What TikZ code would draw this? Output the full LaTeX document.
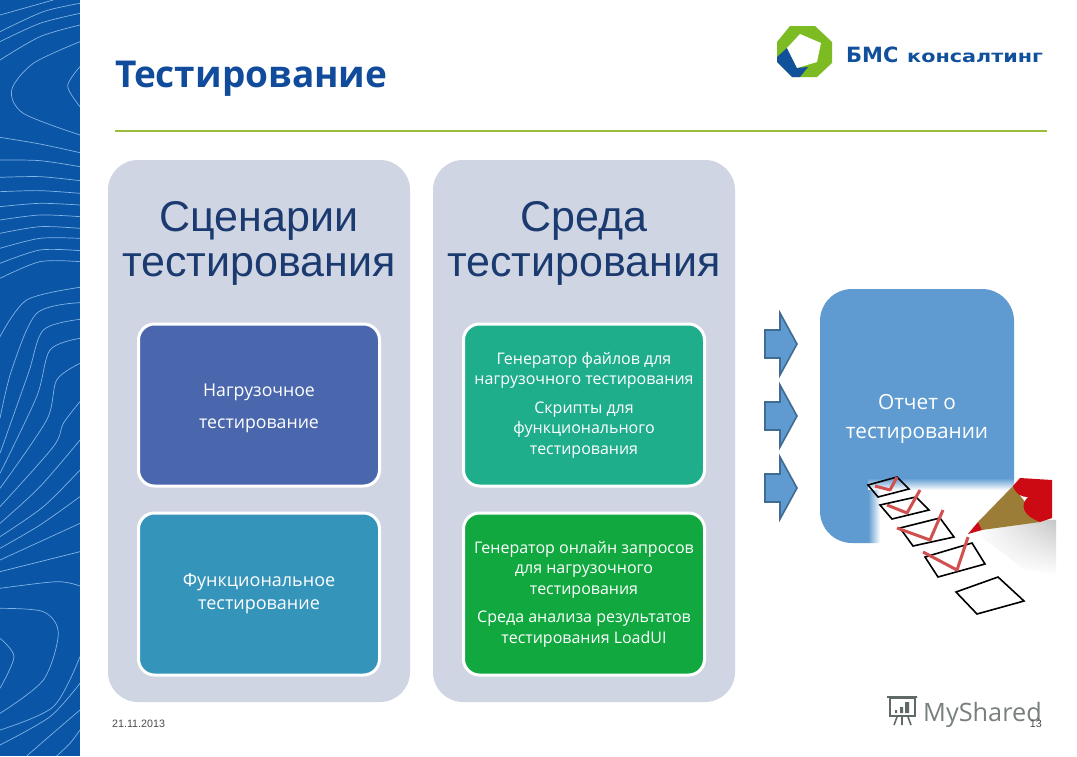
\documentclass[tikz,border=0pt]{standalone}
\usepackage{fontspec}
\setmainfont{Open Sans}
\newfontfamily\headfont{Liberation Sans}
\newfontfamily\logofont{DejaVu Sans}
\newfontfamily\logowidefont[FakeStretch=1.22]{DejaVu Sans}
\usepackage{xcolor}
\usetikzlibrary{fadings}
\definecolor{bandblue}{HTML}{0A55A5}
\definecolor{contourblue}{HTML}{7FB4E6}
\definecolor{titleblue}{HTML}{104C9B}
\definecolor{headblue}{HTML}{1A3A70}
\definecolor{rulegreen}{HTML}{9BBB3B}
\definecolor{panelgrey}{HTML}{CFD5E3}
\definecolor{loadblue}{HTML}{4A66AC}
\definecolor{functeal}{HTML}{3494BA}
\definecolor{filegreen}{HTML}{1FAE8C}
\definecolor{onlinegreen}{HTML}{10A83F}
\definecolor{reportblue}{HTML}{5F9BD1}
\definecolor{arrowedge}{HTML}{3F6B94}
\definecolor{checkred}{HTML}{D0504F}
\definecolor{logogreen}{HTML}{7DBB23}
\definecolor{logoblue}{HTML}{11519C}
\definecolor{markgrey}{HTML}{5F6A66}
\definecolor{pencilbrown}{HTML}{9C7D38}
\definecolor{pencilred}{HTML}{CC0A14}
\tikzset{
	panel/.style = {fill = panelgrey, rounded corners = 30pt, minimum width = 302pt, minimum height = 542pt},
	testbox/.style = {draw = white, line width = 3pt, rounded corners = 16pt, minimum width = 241pt, minimum height = 162pt, text = white, align = center, font = \fontsize{16}{20.5}\selectfont},
	panelhead/.style = {text = headblue, align = center, font = \headfont\fontsize{43}{44.5}\selectfont},
	contourline/.style = {draw = contourblue, line width = 0.7pt},
	tickbox/.style = {draw = black, line width = 1.6pt},
	tickmark/.style = {draw = checkred, line width = 3pt, line join = round}
}
\begin{document}
\begin{tikzpicture}[x = 1pt, y = -1pt]
		\useasboundingbox (0,0) rectangle (1077,756);
		\fill[white] (0,0) rectangle (1077,756);
		\fill[bandblue] (0,0) rectangle (80,756);
		\begin{scope}
			\clip (0,0) rectangle (80,756);
			\begin{scope}[scale = 1/3]
				\draw[contourline] plot[smooth] coordinates {(0,45) (160,0)};
				\draw[contourline] plot[smooth] coordinates {(0,95) (130,35) (240,10)};
				\draw[contourline] plot[smooth] coordinates {(0,125) (120,70) (240,40)};
				\draw[contourline] plot[smooth] coordinates {(0,180) (120,110) (240,75)};
				\draw[contourline] plot[smooth] coordinates {(240,125) (100,190) (35,270) (70,340) (240,405)};
				\draw[contourline] plot[smooth] coordinates {(240,200) (203,258) (240,320)};
				\draw[contourline] plot[smooth] coordinates {(0,412) (120,432) (240,458)};
				\draw[contourline] plot[smooth] coordinates {(0,480) (120,482) (240,500)};
				\draw[contourline] plot[smooth] coordinates {(0,532) (120,530) (240,542)};
				\draw[contourline] plot[smooth] coordinates {(0,575) (120,572) (240,580)};
				\draw[contourline] plot[smooth] coordinates {(0,620) (120,610) (240,615)};
				\draw[contourline] plot[smooth] coordinates {(0,660) (120,645) (240,650)};
				\draw[contourline] plot[smooth] coordinates {(0,700) (120,680) (240,685)};
				\draw[contourline] plot[smooth] coordinates {(0,745) (120,715) (240,715)};
				\draw[contourline] plot[smooth] coordinates {(0,790) (120,750) (240,752)};
				\draw[contourline] plot[smooth] coordinates {(0,835) (120,785) (240,785)};
			\end{scope}
			\begin{scope}[shift = {(0,280)}, scale = 1/3]
				\draw[contourline] plot[smooth] coordinates {(0,170) (80,60) (240,22)};
				\draw[contourline] plot[smooth] coordinates {(0,415) (35,270) (110,100) (240,68)};
				\draw[contourline] plot[smooth] coordinates {(0,520) (85,280) (130,150) (240,118)};
				\draw[contourline] plot[smooth] coordinates {(0,580) (110,350) (150,210) (240,175)};
				\draw[contourline] plot[smooth] coordinates {(0,625) (140,420) (170,300) (240,250)};
				\draw[contourline] plot[smooth] coordinates {(0,680) (160,500) (190,430) (240,365)};
				\draw[contourline] plot[smooth] coordinates {(0,730) (120,620) (240,480)};
				\draw[contourline] plot[smooth] coordinates {(0,770) (130,680) (240,570)};
				\draw[contourline] plot[smooth] coordinates {(0,805) (120,735) (240,650)};
				\draw[contourline] plot[smooth] coordinates {(0,840) (120,785) (240,730)};
				\draw[contourline] plot[smooth] coordinates {(0,875) (120,845) (240,815)};
				\draw[contourline] plot[smooth] coordinates {(0,925) (170,905) (240,918)};
				\draw[contourline] plot[smooth] coordinates {(0,985) (130,995) (175,1060) (130,1200) (0,1300)};
				\draw[contourline] plot[smooth] coordinates {(0,1075) (42,1130) (0,1225)};
				\draw[contourline] plot[smooth] coordinates {(0,1350) (160,1280) (240,1130)};
				\draw[contourline] plot[smooth] coordinates {(0,1395) (150,1310) (240,1210)};
				\draw[contourline] plot[smooth] coordinates {(80,1428) (170,1350) (240,1290)};
				\draw[contourline] plot[smooth] coordinates {(170,1428) (210,1390) (240,1350)};
			\end{scope}
		\end{scope}
		\node[anchor = base west, inner sep = 0, text = titleblue, font = \bfseries\fontsize{37}{40}\selectfont] (title) at (115,87) {Тестирование};
		\draw[rulegreen, line width = 2pt] (115,131) -- (1047,131);
		\fill[logogreen] (790,26) -- (815,26) -- (832,42) -- (832,63) -- (817,77) -- (792,77) -- (777,62) -- (777,42) -- cycle;
		\fill[logoblue] (777,57) -- (787,48) -- (797,68) -- (808,67) -- (800,77) -- (792,77) -- (777,62) -- cycle;
		\fill[white] (800,34) -- (821,43) -- (817,62) -- (797,68) -- (787,48) -- cycle;
		\node[anchor = base west, inner sep = 0, text = logoblue, font = \logofont\bfseries\fontsize{21}{24}\selectfont] (logoname) at (846,62) {БМС};
		\node[anchor = base west, inner sep = 0, text = logoblue, font = \logowidefont\bfseries\fontsize{17}{20}\selectfont] (logoword) at (907,62) {консалтинг};
		\node[panel] (scenarios) at (259,431) {};
		\node[panel] (environment) at (584,431) {};
		\node[panelhead] (scenarioshead) at (259,243.5) {Сценарии\\тестирования};
		\node[panelhead] (environmenthead) at (584,243.5) {Среда\\тестирования};
		\node[testbox, fill = loadblue, text depth = 0pt, font = \fontsize{17.7}{20.5}\selectfont] (load) at (259,405) {\raisebox{-2pt}{Нагрузочное}\\[11.5pt]\raisebox{-2pt}{тестирование}};
		\node[testbox, fill = functeal, font = \fontsize{18}{20.5}\selectfont] (func) at (259,594) {\raisebox{-1pt}{Функциональное}\\[2.5pt]\raisebox{-1pt}{тестирование}};
		\node[testbox, fill = filegreen] (files) at (584,405) {\raisebox{-1pt}{Генератор файлов для}\\\raisebox{-1pt}{нагрузочного тестирования}\\[8pt]\raisebox{-1pt}{Скрипты для}\\\raisebox{-1pt}{функционального}\\\raisebox{-1pt}{тестирования}};
		\node[testbox, fill = onlinegreen] (online) at (584,594) {\raisebox{-1pt}{Генератор онлайн запросов}\\\raisebox{-1pt}{для нагрузочного}\\\raisebox{-1pt}{тестирования}\\[8pt]\raisebox{-1pt}{Среда анализа результатов}\\\raisebox{-1pt}{тестирования LoadUI}};
		\foreach \i in {344,416,488}{
			\draw[fill = reportblue, draw = arrowedge, line width = 1.6pt] (765,\i - 14) -- (780,\i - 14) -- (780,\i - 31) -- (797,\i) -- (780,\i + 31) -- (780,\i + 14) -- (765,\i + 14) -- cycle;
		}
		\fill[reportblue, rounded corners = 32pt] (820,289) rectangle (1014,543);
		\node[text = white, align = center, font = \fontsize{20.8}{29}\selectfont] (report) at (917,419) {Отчет о\\тестировании};
		\fill[white] (880,490) rectangle (1056,616);
		\fill[white, path fading = north] (868,478) rectangle (1056,490);
		\fill[white, path fading = west] (868,490) rectangle (880,616);
		\shade[left color = white, right color = black!22, path fading = south] (975,532) -- (1045,520) -- (1056,520) -- (1056,575) -- (1025,570) -- cycle;
		\draw[tickbox] (868,485) -- (897,477) -- (909,489) -- (878,497) -- cycle;
		\draw[tickbox] (880,505) -- (916,497) -- (929,510) -- (892,519) -- cycle;
		\draw[tickbox] (900,528) -- (940,518) -- (954,537) -- (913,546) -- cycle;
		\draw[tickbox] (925,557) -- (972,543) -- (985,564) -- (938,577) -- cycle;
		\draw[tickbox] (956,592) -- (998,577) -- (1024,601) -- (977,614) -- cycle;
		\draw[tickmark] (875,486) -- (890,490) -- (897,477);
		\draw[tickmark] (887,505) -- (907,513) -- (920,490);
		\draw[tickmark] (897,528) -- (930,540) -- (943,510);
		\draw[tickmark] (923,552) -- (957,570) -- (968,537);
		\fill[pencilbrown] (978,522) -- (1013,486) -- (1040,522) -- (982,530) -- cycle;
		\fill[pencilred] (968,534) -- (978,522) -- (982,530) -- cycle;
		\fill[pencilred] (1013,486) -- (1020,478) -- (1052,480) -- (1052,518) -- (1040,522) .. controls (1022,515) and (1020,505) .. (1028,497) .. controls (1022,497) and (1016,495) .. (1013,486) -- cycle;
		\node[anchor = base west, inner sep = 0, text = black!70, font = \headfont\fontsize{10.7}{12}\selectfont] (datemark) at (112,727) {21.11.2013};
		\draw[markgrey, line width = 1.6pt] (887,697) -- (917,697) (890,698) rectangle (915,716) (897,717) -- (894,725) (902,717) -- (902,725) (908,717) -- (911,725);
		\fill[markgrey] (895,710) rectangle (897,713) (900,707) rectangle (903,713) (905,702) rectangle (909,713);
		\node[anchor = base west, inner sep = 0, text = markgrey!85, font = \fontsize{25.3}{30}\selectfont] (watermark) at (923,721) {MyShared};
		\node[anchor = base east, inner sep = 0, text = black!70, font = \headfont\fontsize{10.7}{12}\selectfont] (pagemark) at (1042,727) {13};
	\end{tikzpicture}
\end{document}
